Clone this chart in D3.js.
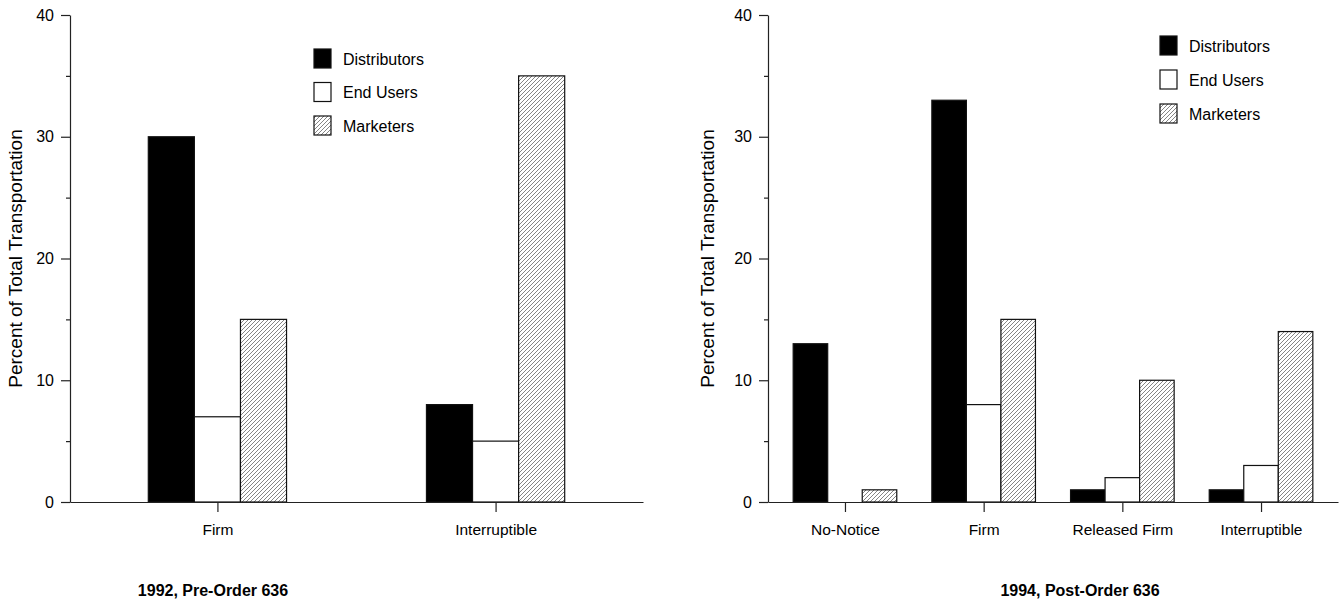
<!DOCTYPE html>
<html><head><meta charset="utf-8">
<script src="https://cdn.jsdelivr.net/npm/d3@7"></script>
<style>
body{margin:0;background:#fff;}
text{font-family:Arial,"Liberation Sans",sans-serif;fill:#000;}
</style></head>
<body><svg id="c" width="1340" height="603"></svg>
<script>
const series = ["Distributors","End Users","Marketers"];
const cats1992 = ["Firm","Interruptible"];
const dist1992 = [30, 8];
const endu1992 = [7, 5];
const mark1992 = [15, 35];
const cats1994 = ["No-Notice","Firm","Released Firm","Interruptible"];
const dist1994 = [13, 33, 1, 1];
const endu1994 = [0, 8, 2, 3];
const mark1994 = [1, 15, 10, 14];
const majorTicks = [0, 10, 20, 30, 40];
const minorTicks = [5, 15, 25, 35];
const yTitle = "Percent of Total Transportation";
const title1992 = "1992, Pre-Order 636";
const title1994 = "1994, Post-Order 636";

const svg = d3.select("#c");
const defs = svg.append("defs");
const pat = defs.append("pattern").attr("id","hatch").attr("patternUnits","userSpaceOnUse")
  .attr("width",4).attr("height",4);
pat.append("rect").attr("width",4).attr("height",4).attr("fill","#fff");
pat.append("path").attr("d","M-1,1 L1,-1 M0,4 L4,0 M3,5 L5,3")
  .attr("stroke","#666").attr("stroke-width",0.8);

const fills = ["#000","#fff","url(#hatch)"];

function panel(o){
  const g = svg.append("g");
  const x = d3.scalePoint().domain(o.cats).range([o.x0, o.x1]).padding(o.pad);
  const y = d3.scaleLinear().domain([0,40]).range([o.yb, o.yt]);
  const gw = x.step()*o.groupFrac;
  const xs = d3.scaleBand().domain(series).range([-gw/2, gw/2]);
  const data = [];
  o.cats.forEach((c,i)=>{
    o.vals.forEach((arr,s)=>{ data.push({c, s:series[s], si:s, v:arr[i]}); });
  });
  g.selectAll("rect.bar").data(data.filter(d=>d.v>0)).join("rect").attr("class","bar")
    .attr("x", d=>x(d.c)+xs(d.s)).attr("width", xs.bandwidth())
    .attr("y", d=>y(d.v)).attr("height", d=>y(0)-y(d.v))
    .attr("fill", d=>fills[d.si]).attr("stroke","#111").attr("stroke-width",1.2);

  // y axis
  const ya = g.append("g").attr("transform",`translate(${o.x0},0)`)
    .call(d3.axisLeft(y).tickValues(majorTicks).tickSize(9).tickSizeOuter(0).tickPadding(7));
  ya.selectAll("text").style("font-size","16px");
  g.append("g").attr("transform",`translate(${o.x0},0)`)
    .call(d3.axisLeft(y).tickValues(minorTicks).tickSize(4).tickSizeOuter(0).tickFormat(""))
    .select(".domain").remove();
  // x axis
  const xa = g.append("g").attr("transform",`translate(0,${o.yb})`)
    .call(d3.axisBottom(x).tickSize(10).tickSizeOuter(0).tickPadding(12));
  xa.selectAll("text").style("font-size","15.5px");
  g.selectAll(".domain, .tick line").attr("stroke","#222").attr("stroke-width",1.2);

  // y title
  g.append("text").attr("transform",`translate(${o.ytx},${(o.yt+o.yb)/2}) rotate(-90)`)
    .attr("text-anchor","middle").attr("dy","0.35em").style("font-size","19px").text(yTitle);
  // bottom title
  g.append("text").attr("x",o.tx).attr("y",596).attr("text-anchor","middle")
    .style("font-size","16px").style("font-weight","bold").text(o.title);
  // legend
  const lg = g.append("g");
  series.forEach((s,i)=>{
    const yy = o.ly + i*o.lstep;
    lg.append("rect").attr("x",o.lx).attr("y",yy).attr("width",17).attr("height",19)
      .attr("fill",fills[i]).attr("stroke","#111").attr("stroke-width",1.2);
    lg.append("text").attr("x",o.lx+29).attr("y",yy+10).attr("dy","0.35em")
      .style("font-size","16px").text(s);
  });
}

panel({cats:cats1992, vals:[dist1992,endu1992,mark1992], x0:70, x1:643, pad:0.53,
  groupFrac:0.497, yb:502, yt:15, ytx:15, tx:213, title:title1992, lx:314, ly:49, lstep:33.5});
panel({cats:cats1994, vals:[dist1994,endu1994,mark1994], x0:768, x1:1338, pad:0.555,
  groupFrac:0.747, yb:502, yt:15, ytx:707, tx:1080, title:title1994, lx:1160, ly:36, lstep:34});
</script></body></html>
